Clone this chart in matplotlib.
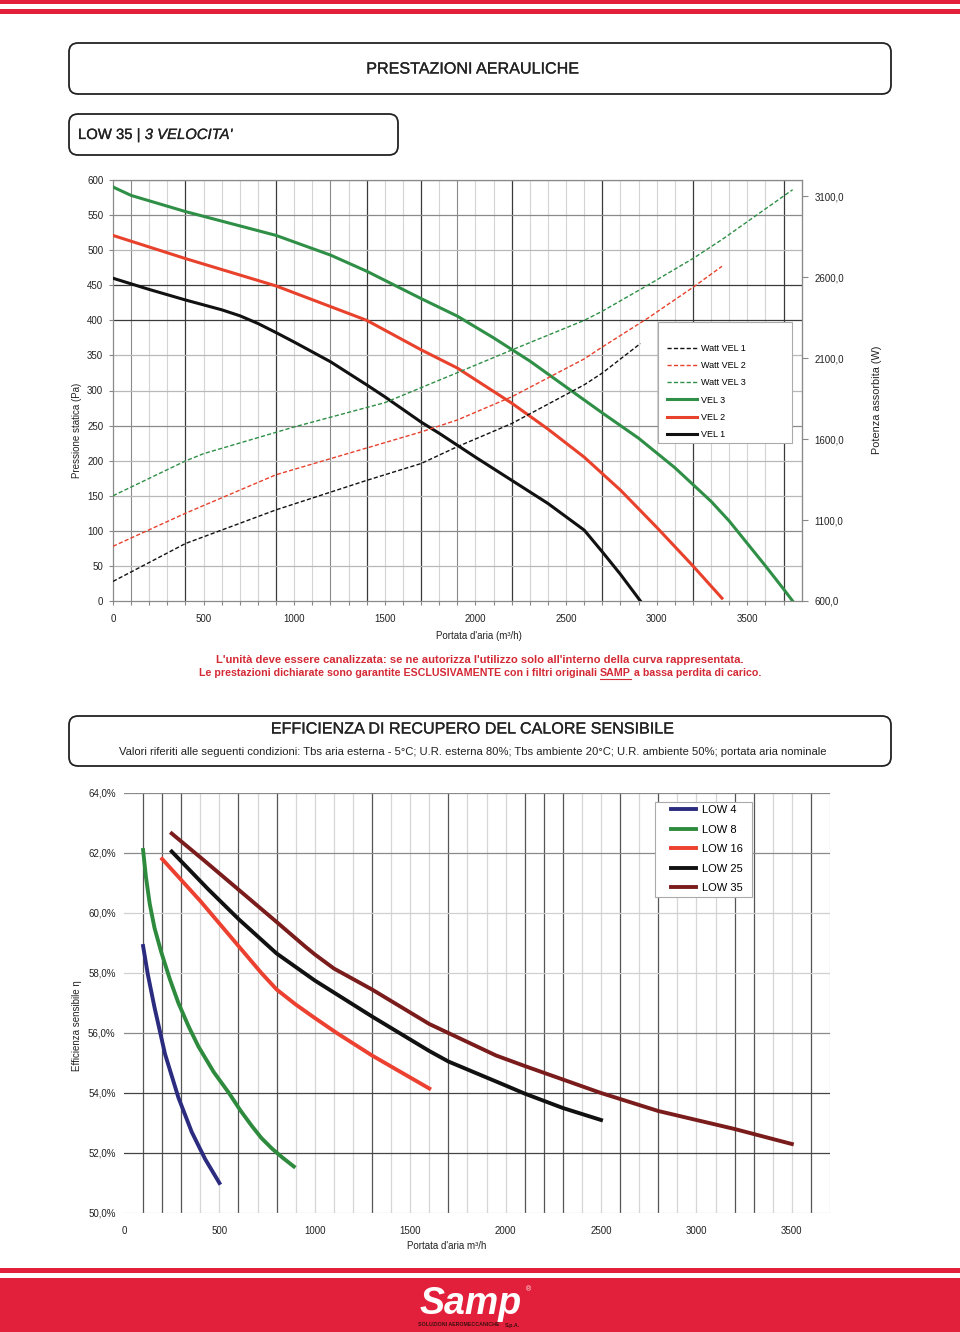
import matplotlib

matplotlib.use('agg')
import matplotlib.pyplot as plt
import matplotlib.patheffects as pe
from matplotlib.patches import FancyBboxPatch, Rectangle
from matplotlib.lines import Line2D

plt.rcParams['font.family'] = ['Liberation Sans', 'DejaVu Sans']

# ---- chart 1: prestazioni aerauliche (LOW 35, 3 velocita') ----
vel3_x = [0, 100, 400, 900, 1200, 1400, 1700, 1900, 2100, 2300, 2500, 2700, 2900,
          3100, 3300, 3400, 3500, 3600, 3700, 3750]
vel3_p = [590, 578, 555, 521, 493, 470, 431, 406, 375, 342, 305, 268, 232,
          190, 142, 114, 82, 50, 17, 0]
vel2_x = [0, 400, 900, 1400, 1700, 1900, 2200, 2400, 2600, 2800, 3000, 3200, 3360]
vel2_p = [521, 488, 449, 400, 358, 332, 282, 245, 205, 158, 105, 50, 4]
vel1_x = [0, 200, 400, 500, 600, 700, 800, 900, 1000, 1200, 1400, 1500, 1600, 1700,
          1800, 1900, 2000, 2200, 2400, 2600, 2700, 2800, 2910]
vel1_p = [460, 444, 429, 422, 415, 406.5, 395.5, 382.5, 369, 341, 308, 291, 273, 255,
          239, 222, 205, 172, 139, 101, 70, 38, 0]

watt3_x = [0, 400, 500, 1000, 1500, 1900, 2200, 2600, 2700, 2950, 3200, 3360, 3750]
watt3_w = [1250, 1465, 1510, 1675, 1825, 2010, 2150, 2333, 2390, 2550, 2715, 2832, 3140]
watt2_x = [0, 400, 900, 1400, 1700, 1900, 2200, 2600, 2700, 2950, 3200, 3360]
watt2_w = [938, 1142, 1380, 1545, 1644, 1718, 1861, 2095, 2169, 2346, 2537, 2667]
watt1_x = [0, 400, 900, 1400, 1700, 1900, 2200, 2600, 2700, 2910]
watt1_w = [721, 955, 1163, 1345, 1449, 1553, 1696, 1935, 2008, 2190]

p_ticks = list(range(0, 601, 50))
w_ticks = [600, 1100, 1600, 2100, 2600, 3100]
q_ticks = list(range(0, 3501, 500))

# ---- chart 2: efficienza di recupero ----
low4_x = [100, 125, 160, 215, 285, 355, 425, 500]
low4_e = [58.9, 57.95, 56.85, 55.3, 53.85, 52.7, 51.8, 51.0]
low8_x = [100, 115, 135, 160, 195, 240, 285, 340, 390, 470, 550, 610, 670, 720,
          775, 830, 890]
low8_e = [62.1, 61.2, 60.3, 59.5, 58.7, 57.8, 57.0, 56.2, 55.55, 54.7, 54.0, 53.42,
          52.9, 52.5, 52.15, 51.85, 51.55]
low16_x = [200, 400, 600, 720, 800, 900, 1000, 1115, 1300, 1450, 1600]
low16_e = [61.8, 60.4, 58.9, 58.0, 57.45, 56.95, 56.5, 56.0, 55.25, 54.7, 54.15]
low25_x = [250, 440, 600, 800, 1000, 1300, 1600, 1700, 2000, 2100, 2300, 2500]
low25_e = [62.05, 60.8, 59.8, 58.65, 57.75, 56.55, 55.4, 55.05, 54.25, 53.98, 53.5, 53.1]
low35_x = [250, 420, 600, 800, 950, 1000, 1100, 1300, 1600, 1800, 1950,
           2100, 2300, 2500, 2800, 3000, 3200, 3500]
low35_e = [62.65, 61.75, 60.78, 59.7, 58.88, 58.62, 58.15, 57.45, 56.3, 55.7, 55.25,
           54.9, 54.45, 54.0, 53.4, 53.1, 52.8, 52.3]

e_ticks = list(range(50, 65, 2))

W, H = 960, 1332
fig = plt.figure(figsize=(W / 100, H / 100), dpi=100)

bg = fig.add_axes([0, 0, 1, 1], zorder=0)
bg.set_xlim(0, W)
bg.set_ylim(H, 0)
bg.axis('off')
renderer = fig.canvas.get_renderer()

RED = '#e3203b'
TXT_RED = '#d42a36'
INK = '#222222'
THICK = [pe.withStroke(linewidth=0.2, foreground=INK)]

# header / footer bands
bg.add_patch(Rectangle((0, 0), W, 4, color=RED, lw=0))
bg.add_patch(Rectangle((0, 9), W, 5, color=RED, lw=0))
bg.add_patch(Rectangle((0, 1268), W, 5, color=RED, lw=0))
bg.add_patch(Rectangle((0, 1278), W, H - 1278, color=RED, lw=0))


def rbox(x0, y0, x1, y1):
    bg.add_patch(FancyBboxPatch((x0, y0), x1 - x0, y1 - y0,
                                boxstyle='round,pad=0,rounding_size=9',
                                fc='white', ec=INK, lw=1.3))


def text_w(s, **kw):
    t = bg.text(0, 0, s, **kw)
    w = t.get_window_extent(renderer).width
    t.remove()
    return w


def space_w(**kw):
    return text_w('x x', **kw) - text_w('xx', **kw)


rbox(69, 43, 891, 94)
bg.text(473, 69, 'PRESTAZIONI AERAULICHE', ha='center', va='center',
        fontsize=11.6, color=INK, path_effects=THICK)
rbox(69, 114, 398, 155)
kw_low = dict(va='center', ha='left', fontsize=10.7, color=INK)
bg.text(78, 135, 'LOW 35 |', path_effects=THICK, **kw_low)
x_it = 78 + text_w('LOW 35 |', **kw_low) + space_w(**kw_low)
bg.text(x_it, 135, "3 VELOCITA'", style='italic', path_effects=THICK, **kw_low)

# red notes
bg.text(480, 660, "L'unità deve essere canalizzata: se ne autorizza l'utilizzo solo "
        "all'interno della curva rappresentata.", ha='center', va='center',
        fontsize=8.1, weight='bold', color=TXT_RED)
parts = ['Le prestazioni dichiarate sono garantite ESCLUSIVAMENTE con i filtri originali',
         'SAMP', 'a bassa perdita di carico.']
kw = dict(va='center', ha='left', fontsize=7.7, weight='bold', color=TXT_RED)
ws = [text_w(s, **kw) for s in parts]
sp7 = space_w(**kw)
x = 480 - (sum(ws) + 2 * sp7) / 2
for i, s in enumerate(parts):
    bg.text(x, 673, s, **kw)
    if i == 1:
        bg.plot([x, x + ws[1]], [678.5, 678.5], color=TXT_RED, lw=0.8)
    x += ws[i] + sp7

rbox(69, 716, 891, 766)
bg.text(473, 729, 'EFFICIENZA DI RECUPERO DEL CALORE SENSIBILE', ha='center',
        va='center', fontsize=11.6, color=INK, path_effects=THICK)
bg.text(473, 752, 'Valori riferiti alle seguenti condizioni: Tbs aria esterna - 5°C; '
        'U.R. esterna 80%; Tbs ambiente 20°C; U.R. ambiente 50%; portata aria nominale',
        ha='center', va='center', fontsize=8.1, color=INK)

# axis titles
bg.text(77, 430, 'Pressione statica (Pa)', rotation=90, ha='center', va='center',
        fontsize=7, color=INK)
bg.text(877, 400, 'Potenza assorbita (W)', rotation=90, ha='center', va='center',
        fontsize=7.8, color=INK)
bg.text(479, 636, "Portata d'aria (m³/h)", ha='center', va='center', fontsize=7,
        color=INK)
bg.text(77, 1026, 'Efficienza sensibile η', rotation=90, ha='center', va='center',
        fontsize=7, color=INK)
bg.text(447, 1246, "Portata d'aria m³/h", ha='center', va='center', fontsize=7,
        color=INK)

# logo
bg.text(471, 1304, 'Samp', ha='center', va='center', fontsize=27, weight='bold',
        style='italic', color='white')
bg.text(528, 1290, '®', ha='center', va='center', fontsize=5, color='white')
bg.text(459, 1325, 'SOLUZIONI AEROMECCANICHE', ha='center', va='center',
        fontsize=3.8, weight='bold', color='#3a1010')
bg.text(512, 1325, 'S.p.A.', ha='center', va='center', fontsize=3.8,
        weight='bold', color='#3a1010')

# ---------------- chart 1 ----------------
ax1 = fig.add_axes([113 / W, (H - 601) / H, 688.7 / W, 421 / H], zorder=2)
ax1.set_xlim(0, 3800)
ax1.set_ylim(0, 600)

dark_v = [400, 900, 1400, 1700, 2200, 2700, 3200, 3700]
mid_v = [100, 1200, 1900]
for xv in range(100, 3800, 100):
    c = '#3a3a3a' if xv in dark_v else ('#8a8a8a' if xv in mid_v else '#d4d4d4')
    ax1.axvline(xv, color=c, lw=0.9 if xv in dark_v else 0.8, zorder=0)
dark_h = [400, 450]
mid_h = [100, 250, 550, 600]
for yv in range(50, 601, 50):
    c = '#3a3a3a' if yv in dark_h else ('#8a8a8a' if yv in mid_h else '#b8b8b8')
    ax1.axhline(yv, color=c, lw=0.9, zorder=0)

GREEN = '#2f8f46'
REDL = '#e8412c'
BLK = '#111111'
DASH = (3, 1.6)
ax1.plot(vel3_x, vel3_p, color=GREEN, lw=2.2, zorder=3)
ax1.plot(vel2_x, vel2_p, color=REDL, lw=2.2, zorder=3)
ax1.plot(vel1_x, vel1_p, color=BLK, lw=2.2, zorder=3)

ax1.set_xticks(q_ticks)
ax1.set_xticks(range(0, 3800, 100), minor=True)
ax1.set_yticks(p_ticks)
ax1.tick_params(axis='both', which='both', labelsize=7, colors='#888888',
                labelcolor=INK, length=3, width=0.8)
ax1.tick_params(axis='x', pad=6)
ax1.tick_params(axis='y', pad=4)
for s in ax1.spines.values():
    s.set_color('#8a8a8a')
    s.set_linewidth(0.9)

ax1b = ax1.twinx()
ax1b.set_ylim(600, 3200)
ax1b.plot(watt1_x, watt1_w, color=BLK, lw=1.0, dashes=DASH)
ax1b.plot(watt2_x, watt2_w, color=REDL, lw=1.0, dashes=DASH)
ax1b.plot(watt3_x, watt3_w, color=GREEN, lw=1.0, dashes=DASH)
ax1b.set_yticks(w_ticks)
ax1b.set_yticklabels([f'{v:.1f}'.replace('.', ',') for v in w_ticks])
ax1b.tick_params(axis='y', labelsize=7, colors='#888888', labelcolor=INK,
                 length=4, width=0.8, pad=5)
for k, s in ax1b.spines.items():
    s.set_visible(k == 'right')
    s.set_color('#8a8a8a')

# legend box drawn by hand so the frame matches the original size
ax1b.add_patch(Rectangle((0.791, 0.375), 0.195, 0.288, transform=ax1b.transAxes,
                         fc='white', ec='#aaaaaa', lw=0.8, zorder=5))
handles = [Line2D([], [], color=BLK, lw=1.0, dashes=DASH),
           Line2D([], [], color=REDL, lw=1.0, dashes=DASH),
           Line2D([], [], color=GREEN, lw=1.0, dashes=DASH),
           Line2D([], [], color=GREEN, lw=2.2),
           Line2D([], [], color=REDL, lw=2.2),
           Line2D([], [], color=BLK, lw=2.2)]
labels = ['Watt VEL 1', 'Watt VEL 2', 'Watt VEL 3', 'VEL 3', 'VEL 2', 'VEL 1']
leg = ax1b.legend(handles, labels, loc='upper left', bbox_to_anchor=(0.800, 0.617),
                  fontsize=6.5, handlelength=3.4, handletextpad=0.4,
                  labelspacing=0.91, borderpad=0.3, frameon=False, borderaxespad=0)
leg.set_zorder(6)

# ---------------- chart 2 ----------------
ax2 = fig.add_axes([124 / W, (H - 1213) / H, 706 / W, 420 / H], zorder=2)
ax2.set_xlim(0, 3700)
ax2.set_ylim(50, 64)

dark_v2 = [100, 200, 300, 600, 800, 1300, 1700, 2100, 2200, 2300, 2600, 2800,
           3200, 3300, 3600]
for xv in range(100, 3701, 100):
    c = '#555555' if xv in dark_v2 else '#d6d6d6'
    ax2.axvline(xv, color=c, lw=0.9, zorder=0)
hcol = {50: '#d0d0d0', 52: '#444444', 54: '#444444', 56: '#8a8a8a',
        58: '#d0d0d0', 60: '#d0d0d0', 62: '#8a8a8a', 64: '#8a8a8a'}
for yv in e_ticks:
    ax2.axhline(yv, color=hcol[yv], lw=0.9, zorder=0)

ax2.plot(low4_x, low4_e, color='#2b2b7f', lw=2.8, label='LOW 4')
ax2.plot(low8_x, low8_e, color='#2e8b3e', lw=2.8, label='LOW 8')
ax2.plot(low16_x, low16_e, color='#ec4030', lw=2.8, label='LOW 16')
ax2.plot(low25_x, low25_e, color='#111111', lw=2.8, label='LOW 25')
ax2.plot(low35_x, low35_e, color='#7b1c1c', lw=2.8, label='LOW 35')

ax2.set_xticks(q_ticks)
ax2.set_yticks(e_ticks)
ax2.set_yticklabels([f'{v:.1f}%'.replace('.', ',') for v in e_ticks])
ax2.tick_params(axis='both', labelsize=7, length=0, labelcolor=INK)
ax2.tick_params(axis='x', pad=9)
ax2.tick_params(axis='y', pad=6)
for s in ax2.spines.values():
    s.set_visible(False)

ax2.add_patch(Rectangle((0.752, 0.752), 0.1375, 0.2266, transform=ax2.transAxes,
                        fc='white', ec='#aaaaaa', lw=0.8, zorder=5))
leg2 = ax2.legend(loc='upper left', bbox_to_anchor=(0.7717, 0.976), fontsize=8,
                  handlelength=2.25, handletextpad=0.54, labelspacing=0.85,
                  borderpad=0.2, frameon=False, borderaxespad=0)
leg2.set_zorder(6)

fig.savefig('out.png', dpi=100)
